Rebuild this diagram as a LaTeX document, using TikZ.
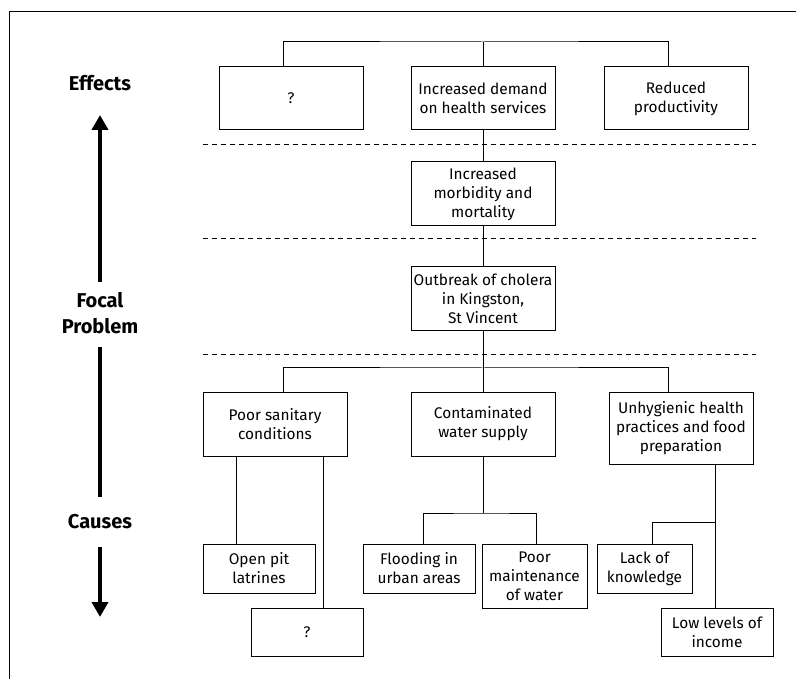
\documentclass[tikz,border=0pt]{standalone}
\usepackage{fontspec}
\setmainfont{Fira Sans}
\usetikzlibrary{arrows.meta}
\begin{document}
\begin{tikzpicture}[x=1pt,y=-1pt,
  box/.style={draw,line width=1pt,align=center,inner sep=0pt,
    font=\fontsize{15.4}{19}\selectfont},
  link/.style={line width=1pt},
  sep/.style={line width=0.8pt,dash pattern=on 5pt off 4pt},
  lab/.style={align=center,font=\fontsize{20}{26}\selectfont\bfseries},
  bigarrow/.style={line width=4pt,-{Triangle[length=15pt,width=16pt]}},
  thick4/.style={line width=4pt}]
\useasboundingbox (0,0) rectangle (796,679);
% frame
\draw[line width=1pt] (9,680) -- (9,12) -- (797,12);
% side labels
\node[lab] (leff) at (100,83) {Effects};
\node[lab] (lfoc) at (100,313) {Focal\\Problem};
\node[lab] (lcau) at (100,522) {Causes};
\coordinate (a1s) at (100,282);
\coordinate (a1t) at (100,115);
\coordinate (a2s) at (100,347);
\coordinate (a2e) at (100,497);
\coordinate (a3s) at (100,547);
\coordinate (a3t) at (100,617);
\draw[bigarrow] (a1s) -- (a1t);
\draw[thick4] (a2s) -- (a2e);
\draw[bigarrow] (a3s) -- (a3t);
% separators
\coordinate (d1l) at (203,144); \coordinate (d1r) at (756,144);
\coordinate (d2l) at (203,238); \coordinate (d2r) at (756,238);
\coordinate (d3l) at (203,354); \coordinate (d3r) at (756,354);
\draw[sep] (d1l) -- (d1r);
\draw[sep] (d2l) -- (d2r);
\draw[sep] (d3l) -- (d3r);
% effects
\node[box,minimum width=144,minimum height=63] (e1) at (291,98.5) {?};
\node[box,minimum width=144,minimum height=63] (e2) at (483,98.5) {Increased demand\\on health services};
\node[box,minimum width=144,minimum height=63] (e3) at (676,98.5) {Reduced\\productivity};
\node[box,minimum width=144,minimum height=64] (m) at (483,194) {Increased\\morbidity and\\mortality};
\node[box,minimum width=144,minimum height=64] (f) at (483,299) {Outbreak of cholera\\in Kingston,\\St Vincent};
% causes
\node[box,minimum width=144,minimum height=64] (c1) at (275,424) {Poor sanitary\\conditions};
\node[box,minimum width=144,minimum height=64] (c2) at (483,424) {Contaminated\\water supply};
\node[box,minimum width=144,minimum height=72] (c3) at (681,428) {Unhygienic health\\practices and food\\preparation};
\node[box,minimum width=112,minimum height=49] (s1) at (259,568.5) {Open pit\\latrines};
\node[box,minimum width=112,minimum height=48] (s2) at (307,632) {?};
\node[box,minimum width=112,minimum height=49] (s3) at (419,568.5) {Flooding in\\urban areas};
\node[box,minimum width=105,minimum height=64] (s4) at (534.5,576) {Poor\\maintenance\\of water};
\node[box,minimum width=95,minimum height=49] (s5) at (644.5,568.5) {Lack of\\knowledge};
\node[box,minimum width=112,minimum height=48] (s6) at (717,632) {Low levels of\\income};
% top bracket
\coordinate (tb) at (483,42);
\draw[link] (e1.north -| 283,0) |- (tb) -| (e3.north -| 668,0);
\draw[link] (tb) -- (e2.north);
\draw[link] (e2.south) -- (m.north);
\draw[link] (m.south) -- (f.north);
% bottom bracket
\coordinate (bb) at (483,368);
\draw[link] (f.south) -- (bb);
\draw[link] (c1.north -| 283,0) |- (bb) -| (c3.north -| 668,0);
\draw[link] (bb) -- (c2.north);
% sanitary
\draw[link] (c1.south -| 236,0) -- (s1.north -| 236,0);
\draw[link] (c1.south -| 323,0) -- (s2.north -| 323,0);
% water
\coordinate (wb) at (483,513);
\draw[link] (c2.south) -- (wb);
\draw[link] (s3.north -| 423,0) |- (wb) -| (s4.north -| 536,0);
% hygiene
\coordinate (hb) at (715,522);
\draw[link] (c3.south -| 715,0) -- (s6.north -| 715,0);
\draw[link] (hb) -| (s5.north -| 652,0);
\end{tikzpicture}
\end{document}
